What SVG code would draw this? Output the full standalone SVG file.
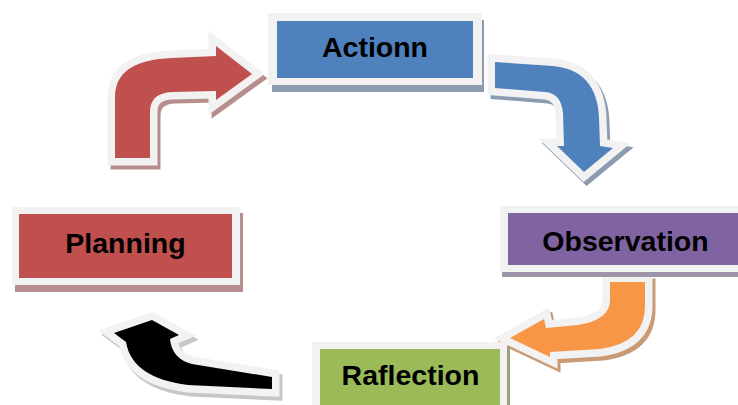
<svg xmlns="http://www.w3.org/2000/svg" xmlns:xlink="http://www.w3.org/1999/xlink" width="738" height="405" viewBox="0 0 738 405">
<style>
.frame{fill:#f2f2f2}
.lbl{font-family:"Liberation Sans",Arial,sans-serif;font-weight:bold;font-size:28.5px;fill:#000;text-anchor:middle}
.arr{stroke:#f2f2f2;stroke-width:15;stroke-linejoin:miter;stroke-miterlimit:12;paint-order:stroke}
.sh{stroke-width:15;stroke-linejoin:miter;stroke-miterlimit:12}
</style>
<defs>
<path id="pRed" d="M115,158 L115,97 Q115,60 172,58 L216,56 L216,46 L252,74 L216,100 L216,91 L172,92 Q150,93 150,112 L150,158 Z"/>
<path id="pBlue" d="M495,62 L553,66 Q597,70 599,118 L600,146 L613,148 L584,172 L557,146 L564,146 L563,113 Q561,93 545,92 L495,88 Z"/>
<path id="pOrange" d="M610,282 L645,282 L645,306 Q645,343 600,349 L550,352 L550,357 L510,338 L544,319 L546,328 L578,325 Q610,320 610,300 Z"/>
<path id="pBlack" d="M272,377 L272,389 L188,385 Q132,378 126,342 L114,333 L152,320 L179,335 L170,339 Q172,359 192,364 Z"/>
</defs>
<g id="connectors">
  <use xlink:href="#pRed" transform="translate(3,4)" class="sh" fill="#b78d8d" stroke="#b78d8d"/>
  <use xlink:href="#pRed" class="arr" fill="#c0504d"/>
  <use xlink:href="#pBlue" transform="translate(3,4)" class="sh" fill="#8d9bb0" stroke="#8d9bb0"/>
  <use xlink:href="#pBlue" class="arr" fill="#4f81bd"/>
  <use xlink:href="#pOrange" transform="translate(3,4)" class="sh" fill="#c99a76" stroke="#c99a76"/>
  <use xlink:href="#pOrange" class="arr" fill="#f79646"/>
  <use xlink:href="#pBlack" transform="translate(3,4)" class="sh" fill="#c6c6c6" stroke="#c6c6c6"/>
  <use xlink:href="#pBlack" class="arr" fill="#000000"/>
</g>
<g id="node-action">
  <rect x="272" y="20" width="212" height="72" fill="#8d9bb0"/>
  <rect class="frame" x="268" y="13" width="214" height="72"/>
  <rect x="277" y="21" width="196" height="57" fill="#4f81bd"/>
  <text class="lbl" x="375" y="57">Actionn</text>
</g>
<g id="node-planning">
  <rect x="15" y="213" width="228" height="79" fill="#b78d8d"/>
  <rect class="frame" x="12" y="207" width="228" height="78"/>
  <rect x="19" y="214" width="213" height="64" fill="#c0504d"/>
  <text class="lbl" x="125.5" y="253">Planning</text>
</g>
<g id="node-observation">
  <rect x="502" y="212" width="240" height="65" fill="#9e95ab"/>
  <rect class="frame" x="500" y="206" width="242" height="66"/>
  <rect x="508" y="213" width="234" height="52" fill="#8064a2"/>
  <text class="lbl" x="625.5" y="251">Observation</text>
</g>
<g id="node-reflection">
  <rect x="315" y="347" width="195" height="70" fill="#9ba07f"/>
  <rect class="frame" x="312" y="342" width="195" height="70"/>
  <rect x="320" y="349" width="180" height="60" fill="#9bbb59"/>
  <text class="lbl" x="410.5" y="385">Raflection</text>
</g>
</svg>
